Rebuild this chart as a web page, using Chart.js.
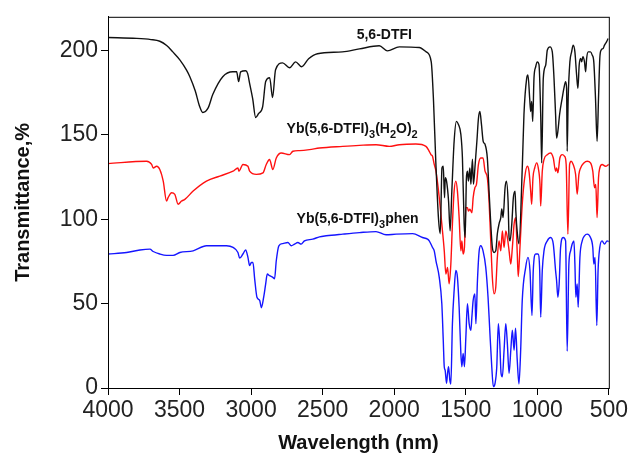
<!DOCTYPE html>
<html>
<head>
<meta charset="utf-8">
<script src="https://cdn.jsdelivr.net/npm/chart.js@4.4.1/dist/chart.umd.min.js"></script>
<style>
    body { margin: 0; background: #fff; }
    #wrap { width: 630px; height: 459px; }
</style>
</head>
<body>
<div id="wrap"><canvas id="irChart" width="630" height="459"></canvas></div>
<script>
// axis ticks
const xTicks = [4000, 3500, 3000, 2500, 2000, 1500, 1000, 500];
const yTicks = [0, 50, 100, 150, 200];

// spectra: [wavenumber, transmittance]
const dtfi = [[4000,207.7],[3800,207.2],[3700,206.5],[3638,205.5],[3590,203],[3547,199.2],[3498,194.5],[3451,188.4],[3428,184.5],[3390,176],[3360,167],[3338,163.3],[3300,166],[3268,173.9],[3198,184.5],[3128,187.4],[3101,187.4],[3087,181.6],[3073,187.4],[3038,188.0],[3024,186.3],[3010,180.4],[2989,171.5],[2968,160.3],[2947,162.7],[2919,166.8],[2898,181.6],[2870,183.9],[2850,172.1],[2829,188.6],[2780,192.7],[2731,189.8],[2689,193.3],[2647,190.4],[2598,195.1],[2536,198.1],[2362,199.2],[2243,201.0],[2104,202.8],[2048,199.8],[1964,202.2],[1825,201.8],[1776,199.2],[1741,193.3],[1725,170],[1709,134],[1690,100],[1678,91.4],[1666,130.4],[1657,131.4],[1648,112.8],[1643,124.6],[1634,122.6],[1620,110.8],[1609,93.1],[1597,116.7],[1581,146.2],[1565,158.0],[1551,156.2],[1534,150.3],[1523,136.3],[1511,97.3],[1504,89.2],[1495,124.6],[1488,128.5],[1481,122.6],[1471,130.4],[1464,120.8],[1453,135.6],[1446,120.8],[1434,132.6],[1422,146.2],[1411,159.9],[1401,163.9],[1390,156.2],[1378,146.2],[1365,144.4],[1349,136.3],[1337,116.7],[1325,97.3],[1314,83.3],[1302,80.3],[1290,81.3],[1279,91.4],[1267,97.3],[1255,101.0],[1248,106.1],[1239,101.0],[1225,118.7],[1216,122.6],[1204,110.8],[1197,89.2],[1190,87.2],[1178,97.3],[1167,112.8],[1155,116.7],[1150,105.0],[1139,91.4],[1128,85.5],[1104,132.6],[1093,162.1],[1074,183.5],[1065,185.5],[1053,171.7],[1046,163.9],[1039,169.8],[1032,158.0],[1023,183.5],[1011,190.4],[1000,193.3],[988,191.6],[976,162.1],[969,133.4],[958,183.5],[941,191.4],[930,200.2],[911,202.2],[895,199.2],[883,183.5],[872,162.1],[865,148.1],[856,152.1],[844,162.1],[826,171.7],[814,177.6],[802,181.6],[795,177.6],[791,140.3],[784,171.7],[772,193.3],[760,199.2],[749,203.2],[737,199.2],[725,185.5],[716,177.6],[707,191.4],[697,195.3],[690,193.3],[681,196.3],[670,193.3],[662,187.4],[655,195.3],[644,199.2],[628,199.2],[616,197.3],[605,193.3],[593,171.7],[582,146.2],[572,171.7],[563,195.3],[554,200.2],[540,201.2],[530,203.2],[516,205.1],[505,207.1]];

const ybH2O = [[4000,133.0],[3730,134.4],[3695,132.5],[3684,130.4],[3660,131.4],[3638,129.5],[3614,122.6],[3591,110.8],[3580,112.8],[3556,115.7],[3533,114.8],[3510,108.9],[3486,110.8],[3463,111.8],[3405,116.7],[3312,122.6],[3219,125.6],[3126,128.5],[3092,130.4],[3085,128.5],[3057,132.5],[3022,131.4],[3010,128.5],[2963,126.6],[2917,127.5],[2894,132.5],[2871,135.4],[2848,129.5],[2824,136.3],[2789,139.3],[2731,138.3],[2708,140.3],[2661,140.7],[2592,141.3],[2522,142.2],[2360,143.2],[2243,143.8],[2127,144.2],[2034,143.2],[1964,144.2],[1848,144.6],[1778,143.2],[1755,140.3],[1743,138.3],[1732,137.3],[1720,132.5],[1708,128.5],[1685,112.8],[1667,97.1],[1650,81.3],[1639,67.6],[1627,71.5],[1616,61.7],[1604,73.5],[1593,97.1],[1581,116.7],[1569,122.6],[1558,116.7],[1546,101.0],[1534,81.3],[1527,87.2],[1518,79.4],[1509,83.3],[1499,106.9],[1488,106.9],[1481,104.9],[1471,105.9],[1457,103.9],[1448,112.8],[1436,118.7],[1425,120.7],[1411,132.5],[1395,136.3],[1379,136.3],[1365,128.5],[1349,124.6],[1337,110.8],[1325,87.2],[1314,65.6],[1302,55.8],[1290,59.7],[1279,77.4],[1267,87.2],[1255,81.3],[1244,93.1],[1232,83.3],[1220,93.1],[1209,89.2],[1197,81.3],[1185,73.5],[1174,83.3],[1162,97.1],[1151,101.0],[1140,80.0],[1133,66.0],[1121,83.3],[1105,108.9],[1088,124.6],[1070,131.4],[1058,128.5],[1046,116.7],[1039,108.9],[1030,124.6],[1018,130.4],[1004,133.4],[993,130.4],[981,120.7],[976,107.9],[965,128.5],[953,135.4],[930,138.3],[907,139.3],[888,136.3],[872,128.5],[865,130.4],[856,127.5],[842,136.3],[826,138.3],[809,137.3],[798,132.5],[786,91.2],[774,132.5],[763,134.4],[749,132.5],[732,126.6],[721,114.8],[709,126.6],[697,130.4],[674,133.4],[651,134.4],[628,133.4],[612,128.5],[600,118.7],[591,120.7],[582,101.0],[572,124.6],[563,130.4],[547,132.5],[523,131.4],[500,132.5]];

const ybPhen = [[4000,79.4],[3870,80.3],[3777,81.8],[3707,82.3],[3684,80.9],[3638,79.4],[3591,78.6],[3545,78.6],[3498,80.3],[3405,81.3],[3312,84.3],[3172,84.3],[3126,83.3],[3092,80.3],[3080,77.0],[3057,79.4],[3038,81.8],[3022,77.4],[3010,72.5],[2998,74.4],[2987,74.4],[2975,64.7],[2959,53.8],[2940,51.9],[2928,47.6],[2912,53.8],[2898,61.7],[2887,67.6],[2871,66.6],[2848,65.6],[2836,64.7],[2824,75.4],[2806,84.3],[2778,85.6],[2743,86.2],[2719,84.3],[2696,85.3],[2673,86.2],[2650,85.3],[2627,87.2],[2569,88.2],[2522,89.6],[2475,90.2],[2360,91.2],[2243,92.1],[2127,92.7],[2057,90.8],[1987,91.2],[1871,91.5],[1802,89.2],[1767,88.2],[1755,87.2],[1732,83.3],[1720,81.3],[1708,75.4],[1685,65.6],[1667,49.9],[1657,28.3],[1650,12.6],[1644,10.6],[1634,2.8],[1627,8.7],[1620,12.6],[1611,4.7],[1604,2.4],[1593,38.1],[1581,57.8],[1569,69.6],[1558,65.6],[1546,47.9],[1534,20.5],[1527,12.6],[1518,20.5],[1509,12.6],[1499,30.2],[1488,49.9],[1476,38.1],[1464,34.2],[1457,42.0],[1448,51.9],[1436,55.8],[1429,38.1],[1418,63.7],[1406,81.3],[1395,84.3],[1379,81.3],[1360,71.5],[1344,53.8],[1332,34.2],[1318,12.6],[1307,0.8],[1295,2.8],[1283,12.6],[1272,38.1],[1262,26.3],[1253,8.7],[1244,6.7],[1232,22.4],[1220,38.1],[1209,26.3],[1197,8.7],[1185,22.4],[1174,34.2],[1162,22.4],[1152,35.4],[1140,16.5],[1128,2.4],[1116,22.4],[1105,51.9],[1081,71.5],[1065,77.4],[1051,69.6],[1037,43.0],[1028,69.6],[1011,79.4],[995,79.4],[983,69.6],[976,42.0],[965,69.6],[953,81.3],[930,87.2],[907,89.2],[888,85.3],[872,69.6],[865,63.7],[856,53.8],[847,61.7],[837,83.3],[819,89.2],[802,87.2],[791,21.8],[779,73.5],[767,81.3],[756,85.3],[744,87.2],[737,73.5],[730,53.8],[721,61.7],[714,47.9],[702,77.4],[686,87.2],[670,90.2],[651,91.2],[628,89.2],[612,83.3],[605,73.5],[596,77.4],[584,37.1],[575,69.6],[563,83.3],[547,87.2],[530,85.3],[512,87.2],[500,86.8]];

const FONT = '"Liberation Sans", Arial, sans-serif';

// curve labels: text pieces, [text, isSubscript]; anchored at baseline in data units
const curveLabels = [
    { at: [2069, 206.6], align: 'center', parts: [['5,6-DTFI', 0]] },
    { at: [2752, 151.2], align: 'left', parts: [['Yb(5,6-DTFI)', 0], ['3', 1], ['(H', 0], ['2', 1], ['O)', 0], ['2', 1]] },
    { at: [2682, 97.8], align: 'left', parts: [['Yb(5,6-DTFI)', 0], ['3', 1], ['phen', 0]] }
];

const labelPlugin = {
    id: 'curveLabels',
    afterDatasetsDraw(chart) {
        const ctx = chart.ctx;
        const xs = chart.scales.x, ys = chart.scales.y;
        ctx.save();
        ctx.fillStyle = '#111';
        ctx.textBaseline = 'alphabetic';
        ctx.textAlign = 'left';
        curveLabels.forEach(function (lab) {
            let total = 0;
            lab.parts.forEach(function (p) {
                ctx.font = 'bold ' + (p[1] ? 11 : 14) + 'px ' + FONT;
                total += ctx.measureText(p[0]).width;
            });
            let x = xs.getPixelForValue(lab.at[0]);
            const y = ys.getPixelForValue(lab.at[1]);
            if (lab.align === 'center') x -= total / 2;
            lab.parts.forEach(function (p) {
                ctx.font = 'bold ' + (p[1] ? 11 : 14) + 'px ' + FONT;
                ctx.fillText(p[0], x, p[1] ? y + 5 : y);
                x += ctx.measureText(p[0]).width;
            });
        });
        ctx.restore();
    }
};

const framePlugin = {
    id: 'frame',
    afterDraw(chart) {
        const a = chart.chartArea, ctx = chart.ctx;
        ctx.save();
        ctx.strokeStyle = '#000';
        ctx.lineWidth = 1;
        ctx.strokeRect(a.left + 0.5, a.top + 0.5, a.right - a.left, a.bottom - a.top);
        ctx.restore();
    }
};

function toPoints(arr) {
    return arr.map(function (p) { return { x: p[0], y: p[1] }; });
}

const ctx = document.getElementById('irChart').getContext('2d');
const irChart = new Chart(ctx, {
    type: 'line',
    data: {
        datasets: [
            { label: '5,6-DTFI', data: toPoints(dtfi), borderColor: '#111111' },
            { label: 'Yb(5,6-DTFI)3(H2O)2', data: toPoints(ybH2O), borderColor: '#ff1010' },
            { label: 'Yb(5,6-DTFI)3phen', data: toPoints(ybPhen), borderColor: '#1515ff' }
        ]
    },
    options: {
        responsive: false,
        animation: false,
        datasets: { line: { borderWidth: 1.4, pointRadius: 0, cubicInterpolationMode: 'monotone', fill: false } },
        layout: { padding: { left: 0, right: 20, top: 15, bottom: 0 } },
        plugins: { legend: { display: false }, tooltip: { enabled: false } },
        scales: {
            x: {
                type: 'linear',
                reverse: true,
                min: 500,
                max: 4000,
                afterBuildTicks: function (s) { s.ticks = xTicks.map(function (v) { return { value: v }; }); },
                afterFit: function (s) { s.height = 71; },
                grid: { drawOnChartArea: false, tickLength: 7, color: '#000' },
                border: { color: '#000', width: 1 },
                ticks: {
                    autoSkip: false, maxRotation: 0, padding: 2, color: '#222',
                    font: { size: 23, family: FONT },
                    callback: function (v) { return String(v); }
                },
                title: {
                    display: true, text: 'Wavelength (nm)', color: '#111',
                    font: { size: 20, weight: 'bold', family: FONT },
                    padding: { top: 0, bottom: 4 }
                }
            },
            y: {
                min: 0,
                max: 220,
                afterBuildTicks: function (s) { s.ticks = yTicks.map(function (v) { return { value: v }; }); },
                afterFit: function (s) { s.width = 108; },
                grid: { drawOnChartArea: false, tickLength: 7, color: '#000' },
                border: { color: '#000', width: 1 },
                ticks: {
                    padding: 3, color: '#222',
                    font: { size: 23, family: FONT },
                    callback: function (v) { return String(v); }
                },
                title: {
                    display: true, text: 'Transmittance,%', color: '#111',
                    font: { size: 20, weight: 'bold', family: FONT },
                    padding: { top: 11, bottom: 0 }
                }
            }
        }
    },
    plugins: [labelPlugin, framePlugin]
});
</script>
</body>
</html>
